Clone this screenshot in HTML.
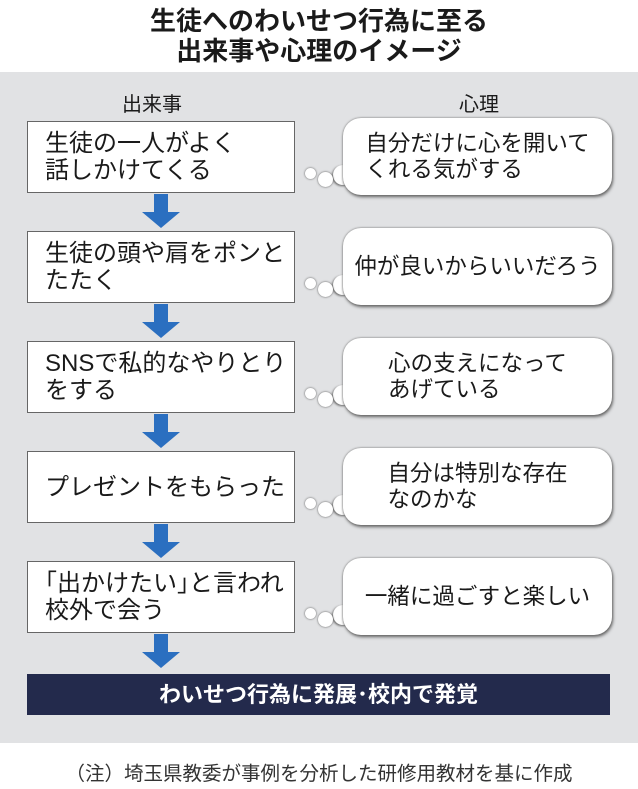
<!DOCTYPE html>
<html><head><meta charset="utf-8"><style>
*{margin:0;padding:0;box-sizing:border-box}
body{width:638px;height:789px;background:#fff;position:relative;overflow:hidden;font-family:"Liberation Sans","Noto Sans CJK JP",sans-serif;color:#1a1a1a}
.t{position:absolute;left:0;width:638px;text-align:center;font-weight:bold;font-size:26px;line-height:30px}
.bg{position:absolute;left:0;top:72px;width:638px;height:671px;background:#e1e2e4}
.h{position:absolute;font-size:20px;top:88px}
.box{position:absolute;left:27px;width:268px;height:72px;background:#fff;border:1px solid #666;font-size:24px;line-height:27px;padding:0 0 0 17px;display:flex;align-items:center;white-space:nowrap}
.bub{position:absolute;left:343px;width:269px;height:77px;background:#fff;border-radius:18px;box-shadow:1px 2px 3px #666, 0 0 2px #777;font-size:22.5px;line-height:26px;display:flex;align-items:center;justify-content:center;white-space:nowrap}
.bub span{display:inline-block;text-align:left}
.d{position:absolute;background:#fff;border-radius:50%;box-shadow:0 0 2px #555}
.bump{position:absolute;background:#fff;border-radius:50%;width:20px;height:20px;left:333px;box-shadow:-1px 1px 2px #666}
.ar{position:absolute;left:140px;width:42px}
.foot{position:absolute;top:757px;left:0;width:638px;text-align:center;font-size:19.5px;color:#333}
.bar{position:absolute;left:27px;top:674px;width:583px;height:41px;background:#232a4c;color:#fff;font-weight:bold;font-size:22px;text-align:center;line-height:41px}
</style></head><body>
<div class="t" style="top:6px">生徒へのわいせつ行為に至る</div>
<div class="t" style="top:36px">出来事や心理のイメージ</div>
<div class="bg"></div>
<div class="h" style="left:122px">出来事</div>
<div class="h" style="left:459px">心理</div>

<div class="box" style="top:121px">生徒の一人がよく<br>話しかけてくる</div>
<div class="box" style="top:231px">生徒の頭や肩をポンと<br>たたく</div>
<div class="box" style="top:341px">SNSで私的なやりとり<br>をする</div>
<div class="box" style="top:451px">プレゼントをもらった</div>
<div class="box" style="top:561px">｢出かけたい｣と言われ<br>校外で会う</div>

<svg class="ar" style="top:194px" height="37" viewBox="0 0 42 37"><path d="M14 0h14v18h12L21 34 2 18h12z" fill="#2b6fc0"/></svg>
<svg class="ar" style="top:304px" height="37" viewBox="0 0 42 37"><path d="M14 0h14v18h12L21 34 2 18h12z" fill="#2b6fc0"/></svg>
<svg class="ar" style="top:414px" height="37" viewBox="0 0 42 37"><path d="M14 0h14v18h12L21 34 2 18h12z" fill="#2b6fc0"/></svg>
<svg class="ar" style="top:524px" height="37" viewBox="0 0 42 37"><path d="M14 0h14v18h12L21 34 2 18h12z" fill="#2b6fc0"/></svg>
<svg class="ar" style="top:634px" height="37" viewBox="0 0 42 37"><path d="M14 0h14v18h12L21 34 2 18h12z" fill="#2b6fc0"/></svg>

<div class="bump" style="top:165px"></div>
<div class="bump" style="top:275px"></div>
<div class="bump" style="top:385px"></div>
<div class="bump" style="top:495px"></div>
<div class="bump" style="top:605px"></div>
<div class="bub" style="top:118px"><span>自分だけに心を開いて<br>くれる気がする</span></div>
<div class="bub" style="top:228px"><span>仲が良いからいいだろう</span></div>
<div class="bub" style="top:338px"><span>心の支えになって<br>あげている</span></div>
<div class="bub" style="top:448px"><span>自分は特別な存在<br>なのかな</span></div>
<div class="bub" style="top:558px"><span>一緒に過ごすと楽しい</span></div>

<div class="d" style="left:305px;top:168px;width:11px;height:11px"></div><div class="d" style="left:318px;top:172px;width:15px;height:15px"></div>
<div class="d" style="left:305px;top:278px;width:11px;height:11px"></div><div class="d" style="left:318px;top:282px;width:15px;height:15px"></div>
<div class="d" style="left:305px;top:388px;width:11px;height:11px"></div><div class="d" style="left:318px;top:392px;width:15px;height:15px"></div>
<div class="d" style="left:305px;top:498px;width:11px;height:11px"></div><div class="d" style="left:318px;top:502px;width:15px;height:15px"></div>
<div class="d" style="left:305px;top:608px;width:11px;height:11px"></div><div class="d" style="left:318px;top:612px;width:15px;height:15px"></div>

<div class="bar">わいせつ行為に発展･校内で発覚</div>
<div class="foot">（注）埼玉県教委が事例を分析した研修用教材を基に作成</div>
</body></html>
